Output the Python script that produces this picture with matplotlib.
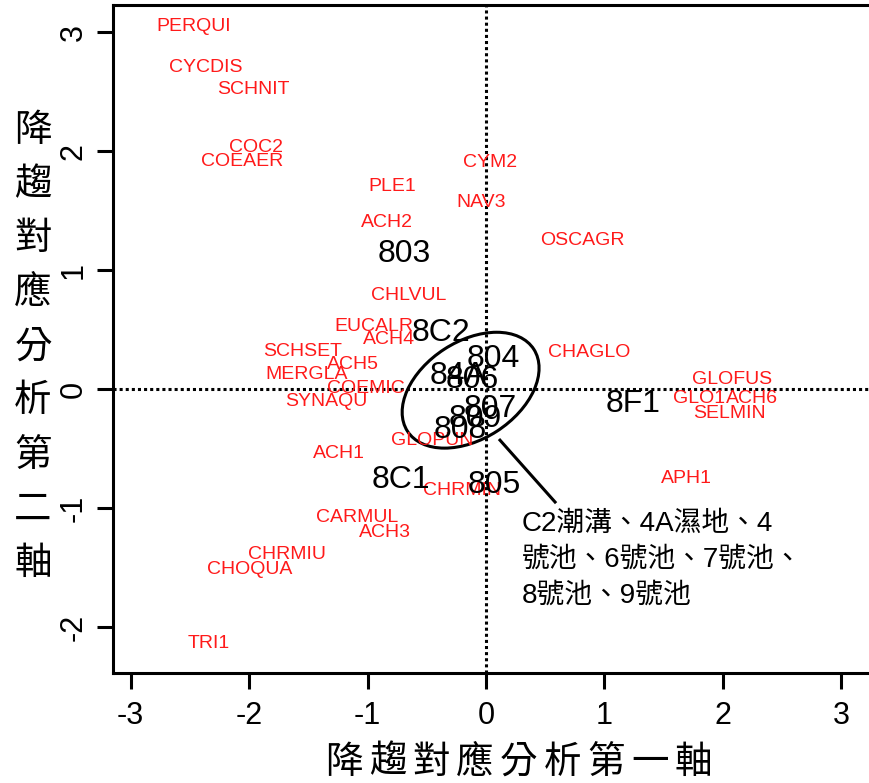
import matplotlib
matplotlib.use("Agg")
import matplotlib.pyplot as plt
from matplotlib.patches import Ellipse

# species scores (red)
species = ["PERQUI", "CYCDIS", "SCHNIT", "COC2", "COEAER", "PLE1", "CYM2", "NAV3",
           "ACH2", "OSCAGR", "CHLVUL", "EUCALR", "ACH4", "SCHSET", "ACH5", "MERGLA",
           "COEMIC", "SYNAQU", "CHAGLO", "GLOFUS", "GLO1", "ACH6", "SELMIN", "GLOPUN",
           "ACH1", "CHRMIN", "APH1", "CARMUL", "ACH3", "CHRMIU", "CHOQUA", "TRI1"]
species_x = [-2.47, -2.365, -1.968, -1.943, -2.061, -0.794, 0.034, -0.042,
             -0.836, 0.811, -0.650, -0.946, -0.819, -1.546, -1.123, -1.512,
             -1.014, -1.351, 0.870, 2.078, 1.799, 2.247, 2.052, -0.456,
             -1.242, -0.203, 1.689, -1.090, -0.853, -1.681, -1.993, -2.340]
species_y = [3.05, 2.706, 2.521, 2.034, 1.916, 1.706, 1.903, 1.567,
             1.399, 1.252, 0.79, 0.529, 0.412, 0.319, 0.210, 0.118,
             0.008, -0.101, 0.311, 0.084, -0.076, -0.076, -0.210, -0.429,
             -0.546, -0.849, -0.756, -1.084, -1.202, -1.387, -1.513, -2.143]

# site scores (black)
sites = ["803", "8C2", "804", "84A", "806", "807", "809", "808", "8F1", "8C1", "805"]
site_x = [-0.693, -0.380, 0.059, -0.236, -0.118, 0.034, -0.093, -0.220, 1.242, -0.718, 0.068]
site_y = [1.134, 0.470, 0.252, 0.109, 0.076, -0.168, -0.252, -0.345, -0.126, -0.765, -0.807]

xticks = [-3, -2, -1, 0, 1, 2, 3]
yticks = [-2, -1, 0, 1, 2, 3]
xlabel = "降趨對應分析第一軸"
ylabel = "降趨對應分析第二軸"
note_lines = ["C2潮溝、4A濕地、4", "號池、6號池、7號池、", "8號池、9號池"]

LAT = "Liberation Sans"
CJK = ["Noto Sans CJK TC", "DejaVu Sans"]

fig = plt.figure(figsize=(8.69, 7.83), dpi=100)
ax = fig.add_axes([0.130, 0.1405, 0.879, 0.853])
ax.set_xlim(-3.15, 3.30)
ax.set_ylim(-2.387, 3.227)

ax.axhline(0, color="black", linestyle=(0, (1, 1)), linewidth=2.2)
ax.axvline(0, color="black", linestyle=(0, (1, 1)), linewidth=2.2)

for name, x, y in zip(species, species_x, species_y):
    ax.text(x, y, name, color="#ff1a1a", fontsize=14, family=LAT,
            ha="center", va="center")
for name, x, y in zip(sites, site_x, site_y):
    ax.text(x, y, name, color="black", fontsize=23, family=LAT,
            ha="center", va="center")

# group ellipse with leader line to the note
ax.add_patch(Ellipse((-0.13, -0.01), 1.27, 0.82, angle=32.8,
                     fill=False, edgecolor="black", linewidth=2.2))
ax.plot([0.118, 0.583], [-0.43, -0.95], color="black", linewidth=2.2)
for i, line in enumerate(note_lines):
    ax.text(0.304, -1.13 - 0.302 * i, line, fontsize=20,
            family=[LAT, "Noto Sans CJK TC"], ha="left", va="center")

ax.set_xticks(xticks)
ax.set_yticks(yticks)
ax.set_xticklabels([str(v) for v in xticks], family=LAT, fontsize=22)
ax.set_yticklabels([str(v) for v in yticks], family=LAT, fontsize=22,
                   rotation=90, va="center")
ax.tick_params(axis="both", direction="out", length=11.5, width=2.2)
ax.tick_params(axis="x", pad=9)
ax.tick_params(axis="y", pad=6)
for side in ("top", "bottom", "left", "right"):
    ax.spines[side].set_linewidth(2.2)

# axis titles, one character at a time
for i, ch in enumerate(xlabel):
    fig.text((322 + 21.8 + 43.7 * i) / 869, 1 - 762 / 783, ch,
             family=CJK, fontsize=27, ha="center", va="center")
for i, ch in enumerate(ylabel):
    fig.text(33 / 869, 1 - (130 + 54.2 * i) / 783, ch,
             family=CJK, fontsize=27, ha="center", va="center")

fig.savefig("out.png", dpi=100)
